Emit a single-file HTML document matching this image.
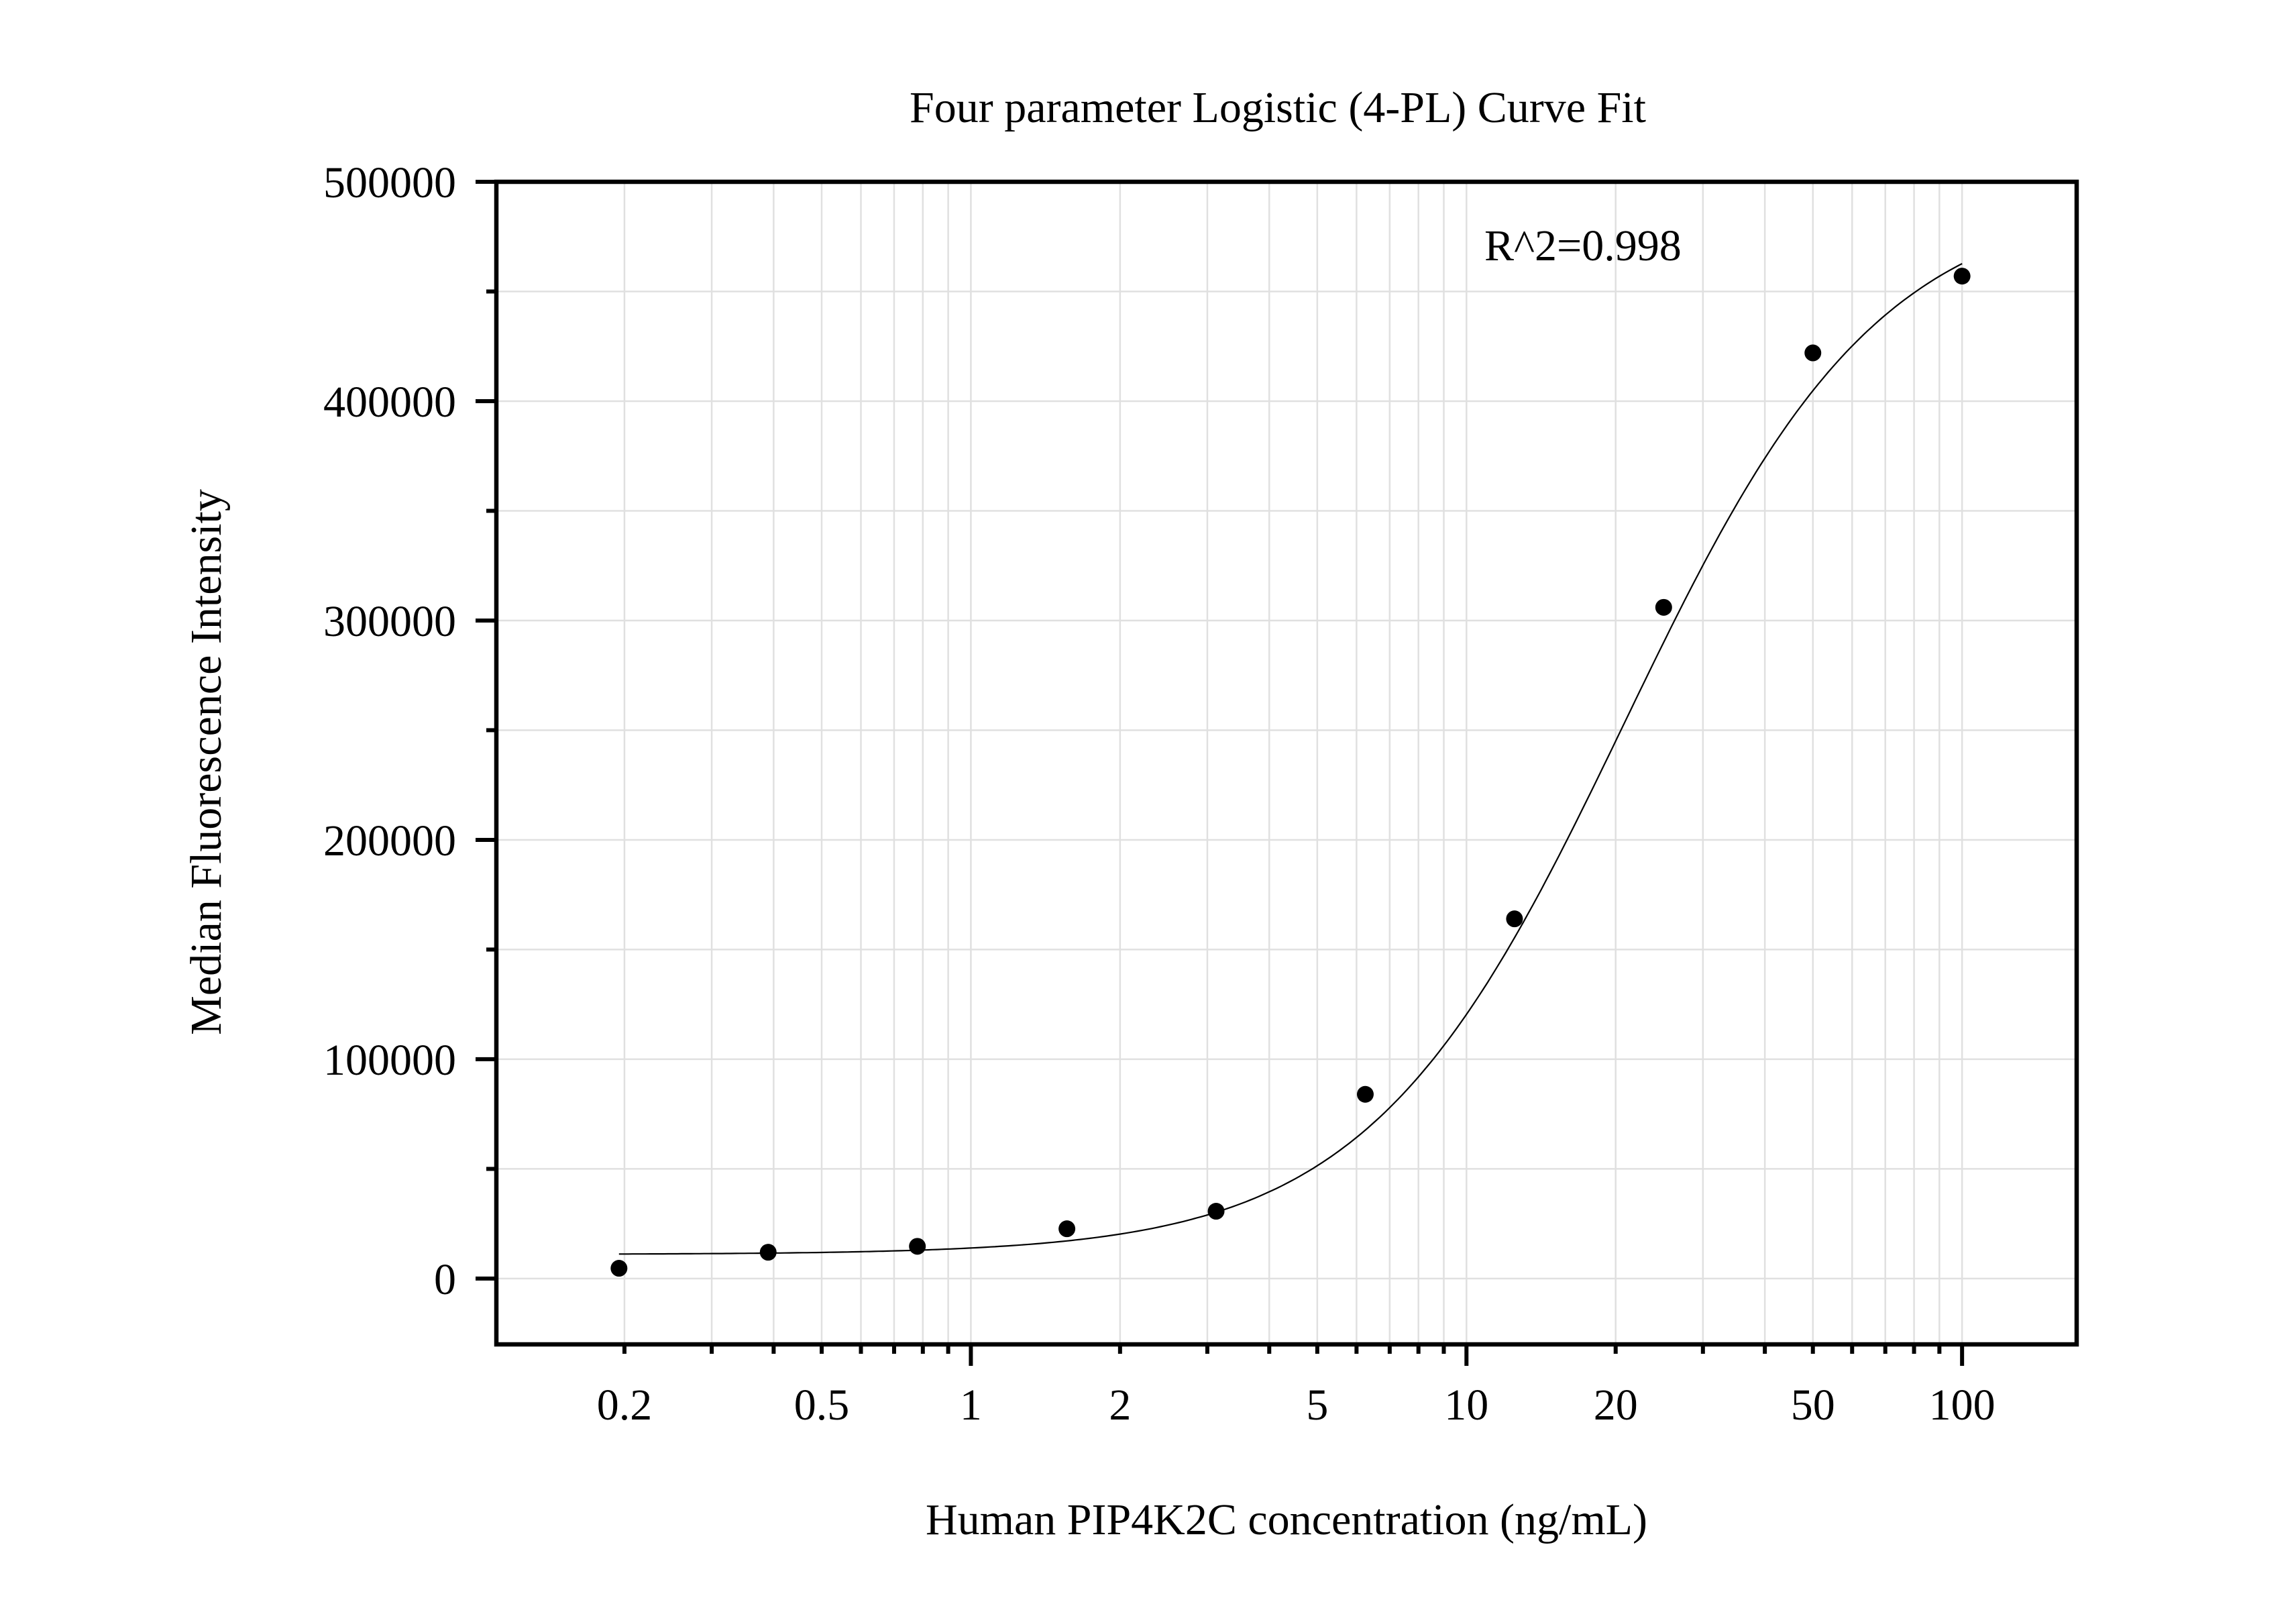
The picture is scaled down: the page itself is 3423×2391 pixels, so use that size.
<!DOCTYPE html>
<html><head><meta charset="utf-8"><style>
html,body{margin:0;padding:0;background:#fff}
svg{display:block;font-family:"Liberation Serif",serif}
</style></head><body>
<svg id="chart" width="3423" height="2391" viewBox="0 0 3423 2391" xmlns="http://www.w3.org/2000/svg">
<rect width="3423" height="2391" fill="#fff"/>
<g id="grid"></g>
<g id="ticks"></g>
<rect x="740" y="271" width="2356" height="1733" fill="none" stroke="#000" stroke-width="6.5"/>
<g id="marks"></g>
<text x="1905" y="182" font-size="66" text-anchor="middle">Four parameter Logistic (4-PL) Curve Fit</text>
<text x="2213" y="388" font-size="66">R^2=0.998</text>
<text x="1918" y="2287" font-size="66" text-anchor="middle">Human PIP4K2C concentration (ng/mL)</text>
<text x="0" y="0" font-size="66" text-anchor="middle" transform="translate(329,1136) rotate(-90)">Median Fluorescence Intensity</text>
</svg>
<script>
const concentrations = [0.195, 0.39, 0.78, 1.5625, 3.125, 6.25, 12.5, 25, 50, 100];
const intensities = [4700, 12000, 14700, 22700, 30700, 84000, 164000, 306000, 422000, 457000];
const yTickValues = [0, 100000, 200000, 300000, 400000, 500000];
const yTickLabels = ["0", "100000", "200000", "300000", "400000", "500000"];
const xTickValues = [0.2, 0.5, 1, 2, 5, 10, 20, 50, 100];
const xTickLabels = ["0.2", "0.5", "1", "2", "5", "10", "20", "50", "100"];
const fitA = 11000, fitB = 1.68, fitC = 20.8, fitD = 495000;

const NS = "http://www.w3.org/2000/svg";
const L = 740, R = 3096, T = 271, B = 2004;
const xMin = 0.1103, xMax = 170.3, yMin = -30000, yMax = 500000;
function xs(v){ return L + Math.log(v / xMin) / Math.log(xMax / xMin) * (R - L); }
function ys(v){ return B - (v - yMin) / (yMax - yMin) * (B - T); }
function mk(tag, attrs, parent){ const e = document.createElementNS(NS, tag); for (const k in attrs) e.setAttribute(k, attrs[k]); parent.appendChild(e); return e; }

const grid = document.getElementById('grid');
const ticks = document.getElementById('ticks');
const marks = document.getElementById('marks');

for (let v = 0; v <= yMax; v += 50000) {
  const y = ys(v);
  const g = mk('line', {x1: L, x2: R, y1: y, y2: y, stroke: '#e0e0e0', 'stroke-width': 2.5}, grid);
  
  
  const major = v % 100000 === 0;
  const t = mk('line', {x1: L - (major ? 31 : 15), x2: L, y1: y, y2: y, stroke: '#000', 'stroke-width': 6}, ticks);
  
  
}
yTickValues.forEach((v, i) => {
  const t = mk('text', {x: 680, y: ys(v) + 23, 'font-size': 66, 'text-anchor': 'end'}, ticks);
  t.textContent = yTickLabels[i];
  
  
});

for (let d = -1; d <= 2; d++) {
  for (let m = 1; m <= 9; m++) {
    const v = m * Math.pow(10, d);
    if (v < xMin || v > xMax) continue;
    const x = xs(v);
    const g = mk('line', {x1: x, x2: x, y1: T, y2: B, stroke: '#e0e0e0', 'stroke-width': 2.5}, grid);
    
    
    const major = m === 1;
    const t = mk('line', {x1: x, x2: x, y1: B, y2: B + (major ? 32 : 14), stroke: '#000', 'stroke-width': 6}, ticks);
    
    
  }
}
xTickValues.forEach((v, i) => {
  const t = mk('text', {x: xs(v), y: 2116, 'font-size': 66, 'text-anchor': 'middle'}, ticks);
  t.textContent = xTickLabels[i];
  
  
});

function fit(x){ return fitD + (fitA - fitD) / (1 + Math.pow(x / fitC, fitB)); }
let d = '';
const x0 = concentrations[0], x1 = concentrations[concentrations.length - 1];
for (let i = 0; i <= 300; i++) {
  const v = x0 * Math.pow(x1 / x0, i / 300);
  d += (i ? 'L' : 'M') + xs(v).toFixed(1) + ',' + ys(fit(v)).toFixed(1);
}
const curve = mk('path', {d: d, fill: 'none', stroke: '#000', 'stroke-width': 2.2}, marks);



concentrations.forEach((c, i) => {
  const p = mk('circle', {cx: xs(c), cy: ys(intensities[i]), r: 12.5, fill: '#000'}, marks);
  
  
});
</script>
</body></html>
